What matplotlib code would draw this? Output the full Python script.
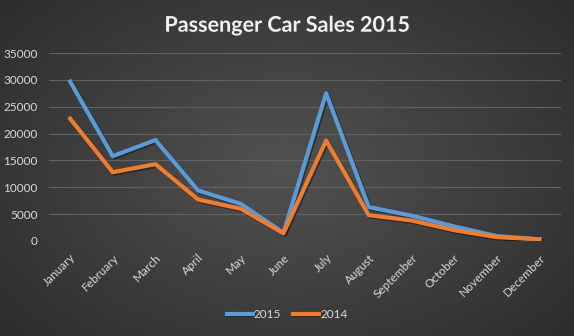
import numpy as np
import matplotlib.pyplot as plt
import matplotlib.patheffects as pe

months = ['January', 'February', 'March', 'April', 'May', 'June', 'July',
          'August', 'September', 'October', 'November', 'December']
sales_2015 = [29700, 15800, 18800, 9400, 6900, 1500, 27500, 6300, 4700, 2700, 900, 300]
sales_2014 = [22800, 12800, 14300, 7700, 6000, 1400, 18700, 4800, 3800, 2000, 700, 300]
yticks = [0, 5000, 10000, 15000, 20000, 25000, 30000, 35000]

plt.rcParams['font.family'] = ['Lato', 'DejaVu Sans']

fig = plt.figure(figsize=(5.74, 3.36), dpi=100)

# radial dark-grey background, lighter in the middle
bg = fig.add_axes([0, 0, 1, 1])
yy, xx = np.mgrid[-1:1:200j, -1:1:300j]
r = np.sqrt((xx * 0.9) ** 2 + (yy * 0.8) ** 2)
shade = np.clip(0.32 - 0.12 * r, 0.14, 1)
bg.imshow(np.dstack([shade] * 3), aspect='auto', extent=[0, 1, 0, 1])
bg.axis('off')

ax = fig.add_axes([0.085, 0.283, 0.892, 0.559])
ax.set_facecolor('none')
x = np.arange(len(months))
shadow = [pe.SimpleLineShadow(offset=(1, -1), alpha=0.4), pe.Normal()]
ax.plot(x, sales_2015, color='#5B9BD5', lw=3, solid_joinstyle='round', label='2015',
        path_effects=shadow)
ax.plot(x, sales_2014, color='#ED7D31', lw=3, solid_joinstyle='round', label='2014',
        path_effects=shadow)

ax.set_xlim(-0.5, 11.5)
ax.set_ylim(0, 35000)
ax.set_yticks(yticks)
ax.set_xticks(x)
ax.set_xticklabels(months, rotation=45, ha='right', rotation_mode='anchor')
ax.tick_params(length=0, colors='#d9d9d9', labelsize=8.5)
ax.tick_params(axis='x', pad=8)
ax.tick_params(axis='y', pad=8)
ax.grid(axis='y', color='#626262', lw=0.8)
ax.set_axisbelow(True)
for s in ax.spines.values():
    s.set_visible(False)

fig.text(0.5, 0.925, 'Passenger Car Sales 2015', ha='center', va='center',
         fontsize=15.5, fontweight='bold', color='#f2f2f2',
         path_effects=[pe.withSimplePatchShadow(offset=(1, -1), alpha=0.6)])

leg = fig.legend(loc='center', bbox_to_anchor=(0.5, 0.065), ncol=2, frameon=False,
                 fontsize=8.5, handlelength=2.2, handletextpad=0.1, columnspacing=1.0)
for t in leg.get_texts():
    t.set_color('#d9d9d9')

fig.savefig('out.png', dpi=100)
